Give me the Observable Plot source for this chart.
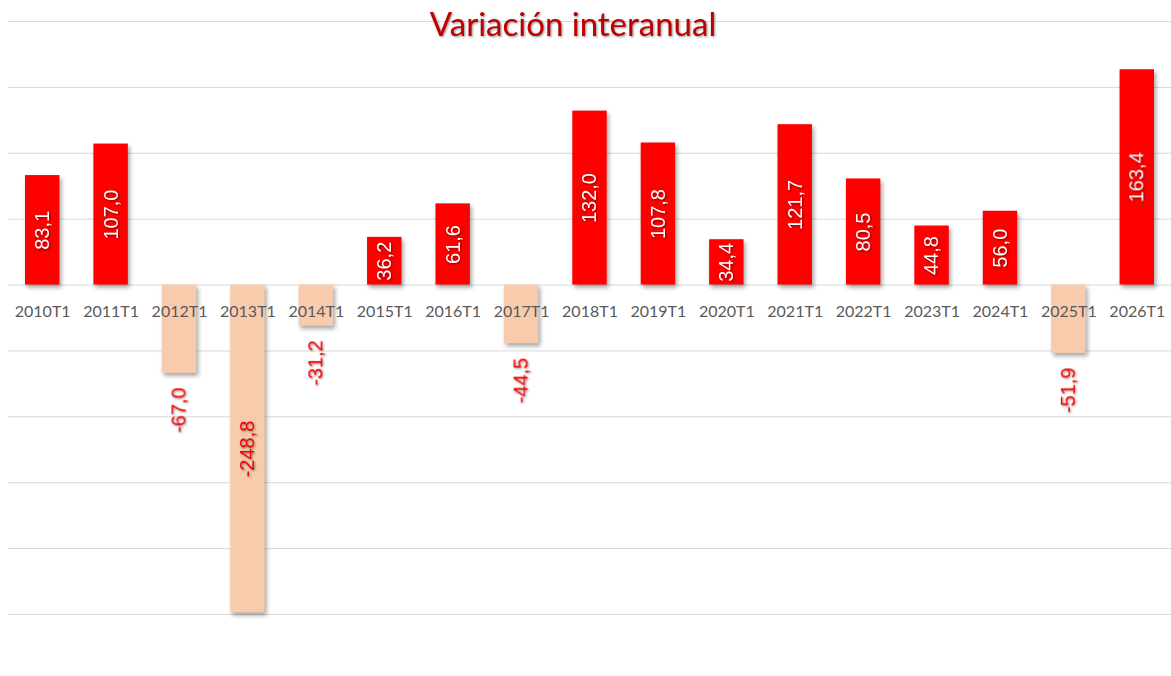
<!DOCTYPE html>
<html>
<head>
<meta charset="utf-8">
<script src="https://cdn.jsdelivr.net/npm/d3@7"></script>
<script src="https://cdn.jsdelivr.net/npm/@observablehq/plot@0.6"></script>
<style>
  html, body { margin: 0; padding: 0; background: #fff; overflow: hidden; }
  .shadow { filter: drop-shadow(2px 3px 2px rgba(0,0,0,0.35)); }
  .tshadow { filter: drop-shadow(1px 1px 1px rgba(0,0,0,0.45)); }
</style>
</head>
<body>
<div id="chart"></div>
<script>
const title = "Variación interanual";
const categories = ["2010T1","2011T1","2012T1","2013T1","2014T1","2015T1","2016T1","2017T1","2018T1","2019T1","2020T1","2021T1","2022T1","2023T1","2024T1","2025T1","2026T1"];
const values = [83.1, 107.0, -67.0, -248.8, -31.2, 36.2, 61.6, -44.5, 132.0, 107.8, 34.4, 121.7, 80.5, 44.8, 56.0, -51.9, 163.4];
const gridTicks = [-250, -200, -150, -100, -50, 0, 50, 100, 150, 200];

const data = categories.map((c, i) => ({cat: c, value: values[i]}));
const fmt = v => v.toFixed(1).replace(".", ",");
const pos = data.filter(d => d.value >= 0);
const negOut = data.filter(d => d.value < 0 && d.value > -200);
const negIn = data.filter(d => d.value <= -200);

const chart = Plot.plot({
  width: 1171,
  height: 676,
  marginLeft: 8,
  marginRight: 0,
  marginTop: 21,
  marginBottom: 62,
  x: {domain: categories, padding: 0, round: false, axis: null},
  y: {domain: [-250, 200], axis: null},
  style: {background: "#fff"},
  marks: [
    Plot.ruleY(gridTicks, {stroke: "#d9d9d9", strokeWidth: 1}),
    Plot.barY(data, {
      x: "cat", y: "value",
      fill: d => d.value >= 0 ? "#ff0000" : "#f8cbad",
      insetLeft: 17, insetRight: 17,
      className: "shadow"
    }),
    Plot.text(categories, {
      x: d => d, y: 0, text: d => d,
      dy: 27, fill: "#595959", fontSize: 16,
      fontFamily: "Lato, sans-serif"
    }),
    Plot.text(pos, {
      x: "cat", y: d => d.value / 2, text: d => fmt(d.value),
      rotate: -90, fill: "#fff", fontSize: 20,
      fontFamily: "'Liberation Sans', Arial, sans-serif",
      className: "tshadow"
    }),
    Plot.text(negOut, {
      x: "cat", y: "value", text: d => fmt(d.value),
      rotate: -90, textAnchor: "end", dy: 14,
      fill: "#ff0000", fontSize: 20,
      fontFamily: "'Liberation Sans', Arial, sans-serif",
      className: "tshadow"
    }),
    Plot.text(negIn, {
      x: "cat", y: d => d.value / 2, text: d => fmt(d.value),
      rotate: -90, fill: "#ff0000", fontSize: 20,
      fontFamily: "'Liberation Sans', Arial, sans-serif",
      className: "tshadow"
    }),
    Plot.text([title], {
      frameAnchor: "top", text: d => d,
      dx: -17, dy: 4, lineAnchor: "middle",
      fill: "#c00000", fontSize: 33,
      fontFamily: "Lato, sans-serif",
      className: "tshadow"
    })
  ]
});
document.getElementById("chart").appendChild(chart);
</script>
</body>
</html>
